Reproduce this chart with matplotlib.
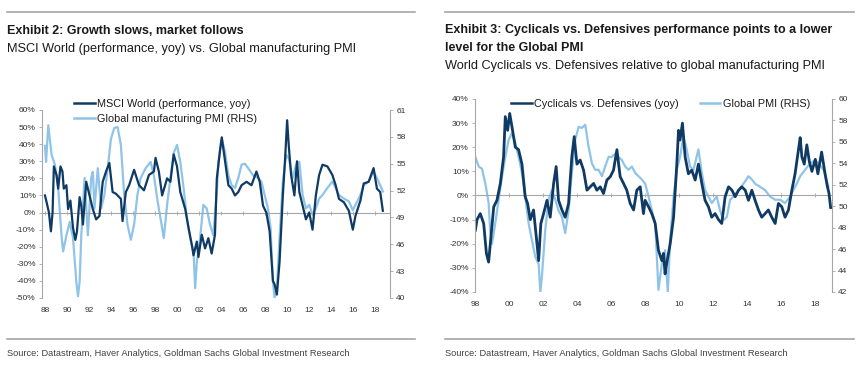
import matplotlib
matplotlib.use("Agg")
from matplotlib import pyplot as plt
from matplotlib.ticker import FuncFormatter
from matplotlib.lines import Line2D

# Exhibit 2 - MSCI World yoy (%) and global manufacturing PMI
msci_t = [1988.0, 1988.15, 1988.36, 1988.54, 1988.69, 1988.81, 1989.05, 1989.2, 1989.41, 1989.59,
          1989.71, 1989.95, 1990.1, 1990.31, 1990.55, 1990.76, 1990.91, 1991.15, 1991.3, 1991.45,
          1991.75, 1992.05, 1992.35, 1992.65, 1992.95, 1993.25, 1993.55, 1993.85, 1994.15, 1994.45,
          1994.9, 1995.05, 1995.35, 1995.65, 1996.1, 1996.55, 1997.0, 1997.45, 1997.9, 1998.05,
          1998.35, 1998.65, 1999.1, 1999.4, 1999.7, 2000.0, 2000.3, 2000.75, 2001.05, 2001.35,
          2001.5, 2001.8, 2001.95, 2002.25, 2002.55, 2002.85, 2003.15, 2003.45, 2003.62, 2003.92,
          2004.07, 2004.37, 2004.67, 2004.97, 2005.27, 2005.57, 2005.87, 2006.32, 2006.77, 2007.22,
          2007.52, 2007.82, 2008.12, 2008.42, 2008.72, 2008.87, 2009.08, 2009.32, 2009.62, 2009.83,
          2010.01, 2010.16, 2010.37, 2010.67, 2010.91, 2011.12, 2011.42, 2011.72, 2012.02, 2012.32,
          2012.62, 2012.92, 2013.22, 2013.67, 2014.12, 2014.42, 2014.72, 2015.17, 2015.62, 2015.98,
          2016.22, 2016.67, 2016.97, 2017.42, 2017.87, 2018.17, 2018.47, 2018.71]
msci_v = [10, 6, 0, -11, 0, 27, 22, 14, 27, 24,
          14, 16, 2, 7, -9, -16, -11, 9, 4, -7,
          18, 10, 2, -4, -2, 18, 24, 29, 12, 11,
          8, -5, 12, 16, 25, 16, 13, 22, 24, 32,
          24, 10, 20, 18, 34, 27, 12, 2, -9, -19,
          -25, -17, -26, -13, -21, -15, -24, -13, 20, 37,
          44, 30, 16, 14, 10, 12, 16, 18, 16, 24,
          18, 4, 0, -11, -40, -42, -48, -29, 10, 32,
          54, 39, 22, 10, 30, 12, 4, -4, 0, -10,
          10, 22, 28, 27, 22, 16, 8, 6, 1, -10,
          -2, 7, 17, 18, 26, 14, 12, 1]

pmi1_t = [1988.0, 1988.1, 1988.3, 1988.6, 1988.9, 1989.2, 1989.5, 1989.65, 1989.95, 1990.25,
          1990.55, 1990.85, 1991.0, 1991.15, 1991.3, 1991.6, 1991.9, 1992.2, 1992.35, 1992.5,
          1992.8, 1993.1, 1993.4, 1993.7, 1994.0, 1994.3, 1994.6, 1994.9, 1995.2, 1995.5,
          1995.8, 1996.1, 1996.4, 1996.7, 1997.15, 1997.6, 1997.9, 1998.2, 1998.5, 1998.8,
          1999.1, 1999.4, 1999.7, 2000.0, 2000.3, 2000.6, 2000.9, 2001.2, 2001.5, 2001.65,
          2001.8, 2002.1, 2002.4, 2002.7, 2003.0, 2003.3, 2003.6, 2003.77, 2004.07, 2004.37,
          2004.67, 2004.97, 2005.27, 2005.57, 2005.87, 2006.17, 2006.47, 2006.92, 2007.37, 2007.67,
          2007.97, 2008.27, 2008.51, 2008.72, 2008.87, 2009.08, 2009.32, 2009.62, 2009.92, 2010.16,
          2010.52, 2010.82, 2011.12, 2011.42, 2011.72, 2012.02, 2012.32, 2012.62, 2012.92, 2013.22,
          2013.67, 2014.12, 2014.42, 2014.72, 2015.17, 2015.62, 2015.98, 2016.22, 2016.67, 2016.97,
          2017.42, 2017.87, 2018.17, 2018.47, 2018.71]
pmi1_v = [57.0, 55.2, 59.3, 56.0, 54.9, 52.3, 47.0, 45.2, 47.0, 48.5,
          46.7, 41.8, 40.2, 41.8, 47.0, 53.4, 47.0, 53.4, 54.1, 50.0,
          54.5, 50.0, 51.5, 54.5, 57.8, 59.0, 59.1, 57.1, 51.5, 48.2,
          46.5, 48.2, 51.5, 53.4, 54.5, 55.2, 53.7, 51.1, 48.9, 46.7,
          50.4, 53.4, 56.2, 57.1, 55.2, 52.3, 48.9, 46.7, 45.2, 41.1,
          44.0, 46.7, 50.4, 50.0, 48.2, 47.0, 51.5, 55.2, 57.8, 56.3,
          53.7, 52.6, 52.3, 53.4, 54.9, 55.0, 54.5, 53.7, 53.4, 53.0,
          51.5, 50.0, 47.8, 41.8, 40.0, 41.1, 46.7, 53.0, 56.0, 55.6,
          53.4, 54.9, 55.2, 51.5, 50.0, 50.4, 49.3, 50.0, 51.1, 51.5,
          52.3, 53.0, 52.3, 51.5, 51.1, 50.8, 49.8, 50.4, 51.5, 52.6,
          53.0, 54.1, 53.4, 52.6, 51.9]

# Exhibit 3 - Cyclicals vs. Defensives yoy (%) and global PMI
cyc_t = [1998.02, 1998.12, 1998.31, 1998.51, 1998.67, 1998.8, 1998.94, 1999.1, 1999.29, 1999.49,
         1999.68, 1999.78, 1999.92, 2000.04, 2000.17, 2000.37, 2000.56, 2000.76, 2000.95, 2001.09,
         2001.25, 2001.44, 2001.6, 2001.74, 2001.87, 2002.03, 2002.23, 2002.42, 2002.62, 2002.77,
         2002.91, 2003.11, 2003.3, 2003.5, 2003.69, 2003.83, 2003.99, 2004.18, 2004.38, 2004.58,
         2004.77, 2004.97, 2005.16, 2005.36, 2005.55, 2005.75, 2005.95, 2006.14, 2006.34, 2006.53,
         2006.73, 2006.92, 2007.12, 2007.32, 2007.51, 2007.71, 2007.9, 2008.0, 2008.2, 2008.39,
         2008.59, 2008.78, 2008.98, 2009.08, 2009.17, 2009.27, 2009.47, 2009.67, 2009.86, 2009.96,
         2010.05, 2010.19, 2010.35, 2010.54, 2010.74, 2010.94, 2011.13, 2011.33, 2011.52, 2011.72,
         2011.91, 2012.11, 2012.31, 2012.5, 2012.7, 2012.9, 2013.1, 2013.29, 2013.49, 2013.68,
         2013.88, 2014.07, 2014.27, 2014.46, 2014.66, 2014.85, 2015.05, 2015.24, 2015.44, 2015.64,
         2015.83, 2016.03, 2016.22, 2016.42, 2016.62, 2016.81, 2017.01, 2017.11, 2017.21, 2017.35,
         2017.5, 2017.65, 2017.8, 2018.0, 2018.15, 2018.37, 2018.55, 2018.7, 2018.8, 2018.9]
cyc_v = [-14.4, -10, -7.5, -11.6, -24, -27.6, -17, -4.7, -2, 5,
         16, 32.7, 27, 34, 28.6, 20, 19, 13, -0.5, -3.3,
         -10, -6, -17, -27, -11.6, -7.5, -2, -9, 5, 12,
         -2, -6, -9, -3.3, 16, 24.4, 13, 14.7, 10.5, 2.2,
         3.6, 5, 2.2, 3.6, 0.8, 6.4, 7.8, 10.5, 19, 7.8,
         5, 2.2, -3.3, -6, 2.2, 3.6, -7.5, -2, -4.7, -7.5,
         -11.6, -22.7, -27, -24, -32.5, -28, -20, -9, 13, 27,
         23, 30, 16, 9, 10.5, 6.4, 13, 5, -2, -4.7,
         -9, -7.5, -10, -11.6, -0.5, 3.6, 2.2, -0.5, 2.2, 3.6,
         2.2, -2, 2.2, -2, -6, -9, -7.5, -6, -9, -11.6,
         -3.3, -4.7, -9, -6, 2.2, 9, 19, 24, 16, 13,
         21, 14, 10, 15, 9, 18, 10, 4, 1, -5]

pmi2_t = [1998.02, 1998.22, 1998.41, 1998.61, 1998.8, 1998.9, 1999.0, 1999.19, 1999.39, 1999.59,
          1999.78, 1999.98, 2000.17, 2000.37, 2000.56, 2000.76, 2000.95, 2001.15, 2001.35, 2001.54,
          2001.74, 2001.84, 2001.93, 2002.13, 2002.32, 2002.52, 2002.72, 2002.91, 2003.11, 2003.3,
          2003.5, 2003.69, 2003.89, 2004.09, 2004.28, 2004.48, 2004.67, 2004.87, 2005.06, 2005.26,
          2005.46, 2005.65, 2005.85, 2006.04, 2006.24, 2006.43, 2006.63, 2006.83, 2007.02, 2007.22,
          2007.41, 2007.61, 2007.8, 2008.0, 2008.2, 2008.39, 2008.59, 2008.78, 2008.98, 2009.17,
          2009.33, 2009.47, 2009.67, 2009.86, 2010.05, 2010.25, 2010.44, 2010.64, 2010.84, 2011.13,
          2011.33, 2011.52, 2011.72, 2011.91, 2012.21, 2012.4, 2012.6, 2012.8, 2012.99, 2013.19,
          2013.49, 2013.78, 2014.07, 2014.27, 2014.46, 2014.76, 2015.05, 2015.34, 2015.64, 2015.93,
          2016.22, 2016.52, 2016.71, 2016.91, 2017.11, 2017.4, 2017.7, 2017.99, 2018.19, 2018.48,
          2018.77]
pmi2_v = [54.6, 53.7, 53.5, 52.1, 50.3, 47.5, 46.5, 48.4, 50.6, 52.8,
          54.6, 56.2, 56.8, 55.9, 54.6, 53.1, 50.9, 48.4, 46.8, 45.3,
          44.6, 42.0, 43.4, 47.8, 50.6, 51.5, 50.6, 49.6, 49.0, 47.5,
          49.6, 53.1, 56.2, 57.4, 57.3, 57.6, 55.6, 54.0, 53.4, 53.4,
          52.8, 53.7, 54.6, 54.6, 54.9, 54.6, 54.3, 53.7, 53.4, 53.7,
          53.1, 52.8, 52.5, 52.1, 50.9, 49.6, 48.4, 42.2, 44.6, 45.9,
          42.0, 46.8, 50.9, 53.4, 54.6, 56.5, 55.3, 53.7, 53.4, 55.3,
          53.1, 51.5, 50.9, 50.3, 50.9, 49.6, 48.7, 49.0, 50.6, 50.9,
          51.5, 52.1, 52.8, 52.5, 52.1, 51.8, 51.5, 50.9, 50.6, 50.6,
          50.3, 50.9, 51.5, 52.1, 52.8, 53.4, 54.0, 54.3, 54.0, 53.4,
          51.8]

DARK = "#0f3a64"
LIGHT = "#8fc4e8"
TXT = "#333333"
GREY = "#a6a6a6"
plt.rcParams["font.family"] = ["Liberation Sans", "DejaVu Sans"]

W, H = 864, 368
fig = plt.figure(figsize=(W / 100, H / 100), dpi=100)


def box(x0, y0, x1, y1):
    return [x0 / W, 1 - y1 / H, (x1 - x0) / W, (y1 - y0) / H]


def fy(y):
    return 1 - y / H


def style(ax, ax2):
    ax.set_zorder(ax2.get_zorder() + 1)
    ax.patch.set_visible(False)
    for a in (ax, ax2):
        a.spines["top"].set_visible(False)
        a.spines["bottom"].set_visible(False)
        a.spines["left"].set_color(GREY)
        a.spines["right"].set_color(GREY)
        a.spines["left"].set_linewidth(0.8)
        a.spines["right"].set_linewidth(0.8)
    ax2.spines["left"].set_visible(False)
    ax.spines["right"].set_visible(False)
    ax.tick_params(axis="y", length=2.5, width=0.6, color=GREY, labelsize=6, labelcolor=TXT, pad=2)
    ax2.tick_params(axis="y", length=2.5, width=0.6, color=GREY, labelsize=6, labelcolor=TXT, pad=2)
    ax.yaxis.set_major_formatter(FuncFormatter(lambda v, p: f"{v:.0f}%"))
    ax.axhline(0, color=GREY, lw=0.8, zorder=0)
    # tick marks along the zero line, labels at the bottom
    ax.xaxis.set_ticks_position("none")
    ax.tick_params(axis="x", labelsize=6, labelcolor=TXT, pad=3)
    ax.xaxis.set_major_formatter(FuncFormatter(lambda v, p: f"{int(round(v)) % 100:02d}"))
    ax.plot(ax.get_xticks(), [0] * len(ax.get_xticks()), ls="none", marker="|",
            ms=2.5, mew=0.6, color=GREY, zorder=1)


def header(x, y_top, lines, sub, y_sub, x1, y_src):
    fig.add_artist(Line2D([x / W, x1 / W], [fy(y_top), fy(y_top)], color=GREY, lw=1.2))
    for txt, yy in lines:
        fig.text(x / W, fy(yy), txt, fontsize=9.0, fontweight="bold",
                 color="#1a1a1a", va="center", ha="left")
    fig.text(x / W, fy(y_sub), sub, fontsize=9.2, color="#1a1a1a",
             va="center", ha="left")
    fig.add_artist(Line2D([x / W, x1 / W], [fy(y_src - 14), fy(y_src - 14)], color=GREY, lw=1.2))
    fig.text(x / W, fy(y_src), "Source: Datastream, Haver Analytics, Goldman Sachs Global Investment Research",
             fontsize=6.7, color="#404040", va="center", ha="left")


# ---- left panel ----
header(7, 12, [("Exhibit 2: Growth slows, market follows", 31)],
       "MSCI World (performance, yoy) vs. Global manufacturing PMI", 49, 415, 353)

ax1 = fig.add_axes(box(42, 110, 390, 298))
ax1b = ax1.twinx()
ax1.set_xlim(1987.73, 2019.36)
ax1.set_ylim(-50, 60)
ax1.set_yticks(range(-50, 61, 10))
ax1b.set_ylim(40, 61)
ax1b.set_yticks(range(40, 62, 3))
ax1.set_xticks(range(1988, 2019, 2))
style(ax1, ax1b)
ax1b.plot(pmi1_t, pmi1_v, color=LIGHT, lw=1.6)
ax1.plot(msci_t, msci_v, color=DARK, lw=1.6)
fig.legend(handles=[Line2D([], [], color=DARK, lw=1.8), Line2D([], [], color=LIGHT, lw=1.8)],
           labels=["MSCI World (performance, yoy)", "Global manufacturing PMI (RHS)"],
           loc="upper left", bbox_to_anchor=(74 / W, fy(99)), frameon=False, fontsize=7.8,
           handlelength=1.9, handletextpad=0.25, labelspacing=0.42, borderpad=0,
           borderaxespad=0, labelcolor="#1a1a1a")

# ---- right panel ----
header(445, 12, [("Exhibit 3: Cyclicals vs. Defensives performance points to a lower", 30),
                 ("level for the Global PMI", 48)],
       "World Cyclicals vs. Defensives relative to global manufacturing PMI", 66, 854, 353)

ax2 = fig.add_axes(box(475, 99, 832, 292))
ax2b = ax2.twinx()
ax2.set_xlim(1998.0, 2018.98)
ax2.set_ylim(-40, 40)
ax2.set_yticks(range(-40, 41, 10))
ax2b.set_ylim(42, 60)
ax2b.set_yticks(range(42, 61, 2))
ax2.set_xticks(range(1998, 2019, 2))
style(ax2, ax2b)
ax2b.plot(pmi2_t, pmi2_v, color=LIGHT, lw=1.6)
ax2.plot(cyc_t, cyc_v, color=DARK, lw=2.0)
fig.legend(handles=[Line2D([], [], color=DARK, lw=1.8), Line2D([], [], color=LIGHT, lw=1.8)],
           labels=["Cyclicals vs. Defensives (yoy)", "Global PMI (RHS)"],
           loc="upper left", bbox_to_anchor=(511 / W, fy(99)), frameon=False, fontsize=7.8,
           ncol=2, handlelength=1.9, handletextpad=0.25, columnspacing=1.9, borderpad=0,
           borderaxespad=0, labelcolor="#1a1a1a")

fig.savefig("out.png", dpi=100)
